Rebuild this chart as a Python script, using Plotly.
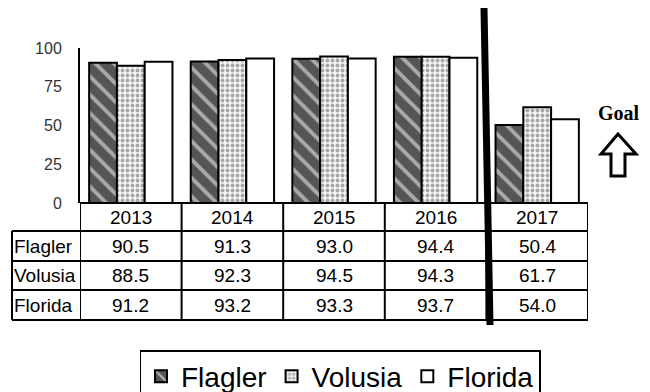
import plotly.graph_objects as go

years = ["2013", "2014", "2015", "2016", "2017"]
flagler = [90.5, 91.3, 93.0, 94.4, 50.4]
volusia = [88.5, 92.3, 94.5, 94.3, 61.7]
florida = [91.2, 93.2, 93.3, 93.7, 54.0]
series_names = ["Flagler", "Volusia", "Florida"]
y_ticks = [0, 25, 50, 75, 100]

W, H = 650, 392
L, R, T, B = 80, 62, 48, 189
PW = W - L - R
PH = H - T - B


def px_x(px):
    return (px - L) / PW


def px_y(py):
    return (H - B - py) / PH


FONT = "Liberation Sans, Arial, sans-serif"
xs = list(range(len(years)))

fig = go.Figure()
fig.add_bar(
    name=series_names[0], x=xs, y=flagler,
    marker=dict(color="#555555", line=dict(color="black", width=2),
                pattern=dict(shape="\\", fgcolor="white", bgcolor="#555555",
                             size=13, solidity=0.3)),
)
fig.add_bar(
    name=series_names[1], x=xs, y=volusia,
    marker=dict(color="#8c8c8c", line=dict(color="black", width=2),
                pattern=dict(shape=".", fgcolor="#5a5a5a", bgcolor="#f4f4f4",
                             size=5, solidity=0.45)),
)
fig.add_bar(
    name=series_names[2], x=xs, y=florida,
    marker=dict(color="white", line=dict(color="black", width=2)),
)

shapes = []
annotations = []
RULE = dict(color="black", width=2)

# data table under the plot
row_px = [203, 231, 261, 290, 320]
label_left = 12
for i in range(1, len(row_px)):
    y0 = px_y(row_px[i])
    shapes.append(dict(type="line", xref="x", yref="paper", x0=-0.5, x1=len(years) - 0.5,
                       y0=y0, y1=y0, line=RULE))
    shapes.append(dict(type="line", xref="paper", yref="paper", x0=px_x(label_left), x1=0,
                       y0=y0, y1=y0, line=RULE))
shapes.append(dict(type="line", xref="x", yref="paper", x0=-0.5, x1=len(years) - 0.5,
                   y0=0, y1=0, line=RULE))
for k in range(len(years) + 1):
    shapes.append(dict(type="line", xref="x", yref="paper", x0=k - 0.5, x1=k - 0.5,
                       y0=0, y1=px_y(row_px[-1]), line=RULE))
shapes.append(dict(type="line", xref="paper", yref="paper", x0=px_x(label_left), x1=px_x(label_left),
                   y0=px_y(row_px[1]), y1=px_y(row_px[-1]), line=RULE))

cell_font = dict(family=FONT, size=19, color="black")
for j, yr in enumerate(years):
    annotations.append(dict(xref="x", yref="paper", x=j, y=px_y((row_px[0] + row_px[1]) / 2),
                            xanchor="center", yanchor="middle",
                            text=yr, showarrow=False, font=cell_font))
for r, (name, vals) in enumerate(zip(series_names, [flagler, volusia, florida])):
    yc = px_y((row_px[r + 1] + row_px[r + 2]) / 2)
    annotations.append(dict(xref="paper", yref="paper", x=px_x(label_left), y=yc,
                            xanchor="left", yanchor="middle", text=name, showarrow=False,
                            font=cell_font))
    for j, v in enumerate(vals):
        annotations.append(dict(xref="x", yref="paper", x=j, y=yc, text=f"{v:.1f}",
                                xanchor="center", yanchor="middle",
                                showarrow=False, font=cell_font))

# thick divider before the latest year
shapes.append(dict(type="line", xref="paper", yref="paper",
                   x0=px_x(484), y0=px_y(8), x1=px_x(490), y1=px_y(325),
                   line=dict(color="black", width=7)))

# goal marker
annotations.append(dict(xref="paper", yref="paper", x=px_x(619), y=px_y(113),
                        xanchor="center", yanchor="middle",
                        text="<b>Goal</b>", showarrow=False,
                        font=dict(family="Liberation Serif, Times New Roman, serif", size=20, color="black")))
arrow_pts = [(618, 134), (601, 154), (611, 154), (611, 176), (625, 176), (625, 154), (636, 154)]
path = "M " + " L ".join(f"{px_x(a):.4f},{px_y(b):.4f}" for a, b in arrow_pts) + " Z"
shapes.append(dict(type="path", xref="paper", yref="paper", path=path,
                   line=dict(color="black", width=3), fillcolor="white"))

fig.update_layout(
    width=W, height=H,
    margin=dict(l=L, r=R, t=T, b=B, autoexpand=False),
    paper_bgcolor="white", plot_bgcolor="white",
    barmode="group", bargap=0.18, bargroupgap=0,
    font=dict(family=FONT, color="black"),
    xaxis=dict(range=[-0.5, len(years) - 0.5], showticklabels=False, showgrid=False,
               zeroline=False, showline=False, fixedrange=True),
    yaxis=dict(range=[0, 100], tickvals=y_ticks, showgrid=False, zeroline=False,
               showline=True, linecolor="black", linewidth=2, ticks="",
               ticklabelstandoff=13, tickfont=dict(family=FONT, size=16, color="#333")),
    legend=dict(orientation="h", xref="container", yref="container",
                x=340 / W, xanchor="center", y=(H - 350) / H, yanchor="top",
                bordercolor="black", borderwidth=1.5, font=dict(family=FONT, size=28, color="black"),
                itemwidth=30, tracegroupgap=0),
    shapes=shapes,
    annotations=annotations,
    showlegend=True,
)

fig.write_html("out.html")
